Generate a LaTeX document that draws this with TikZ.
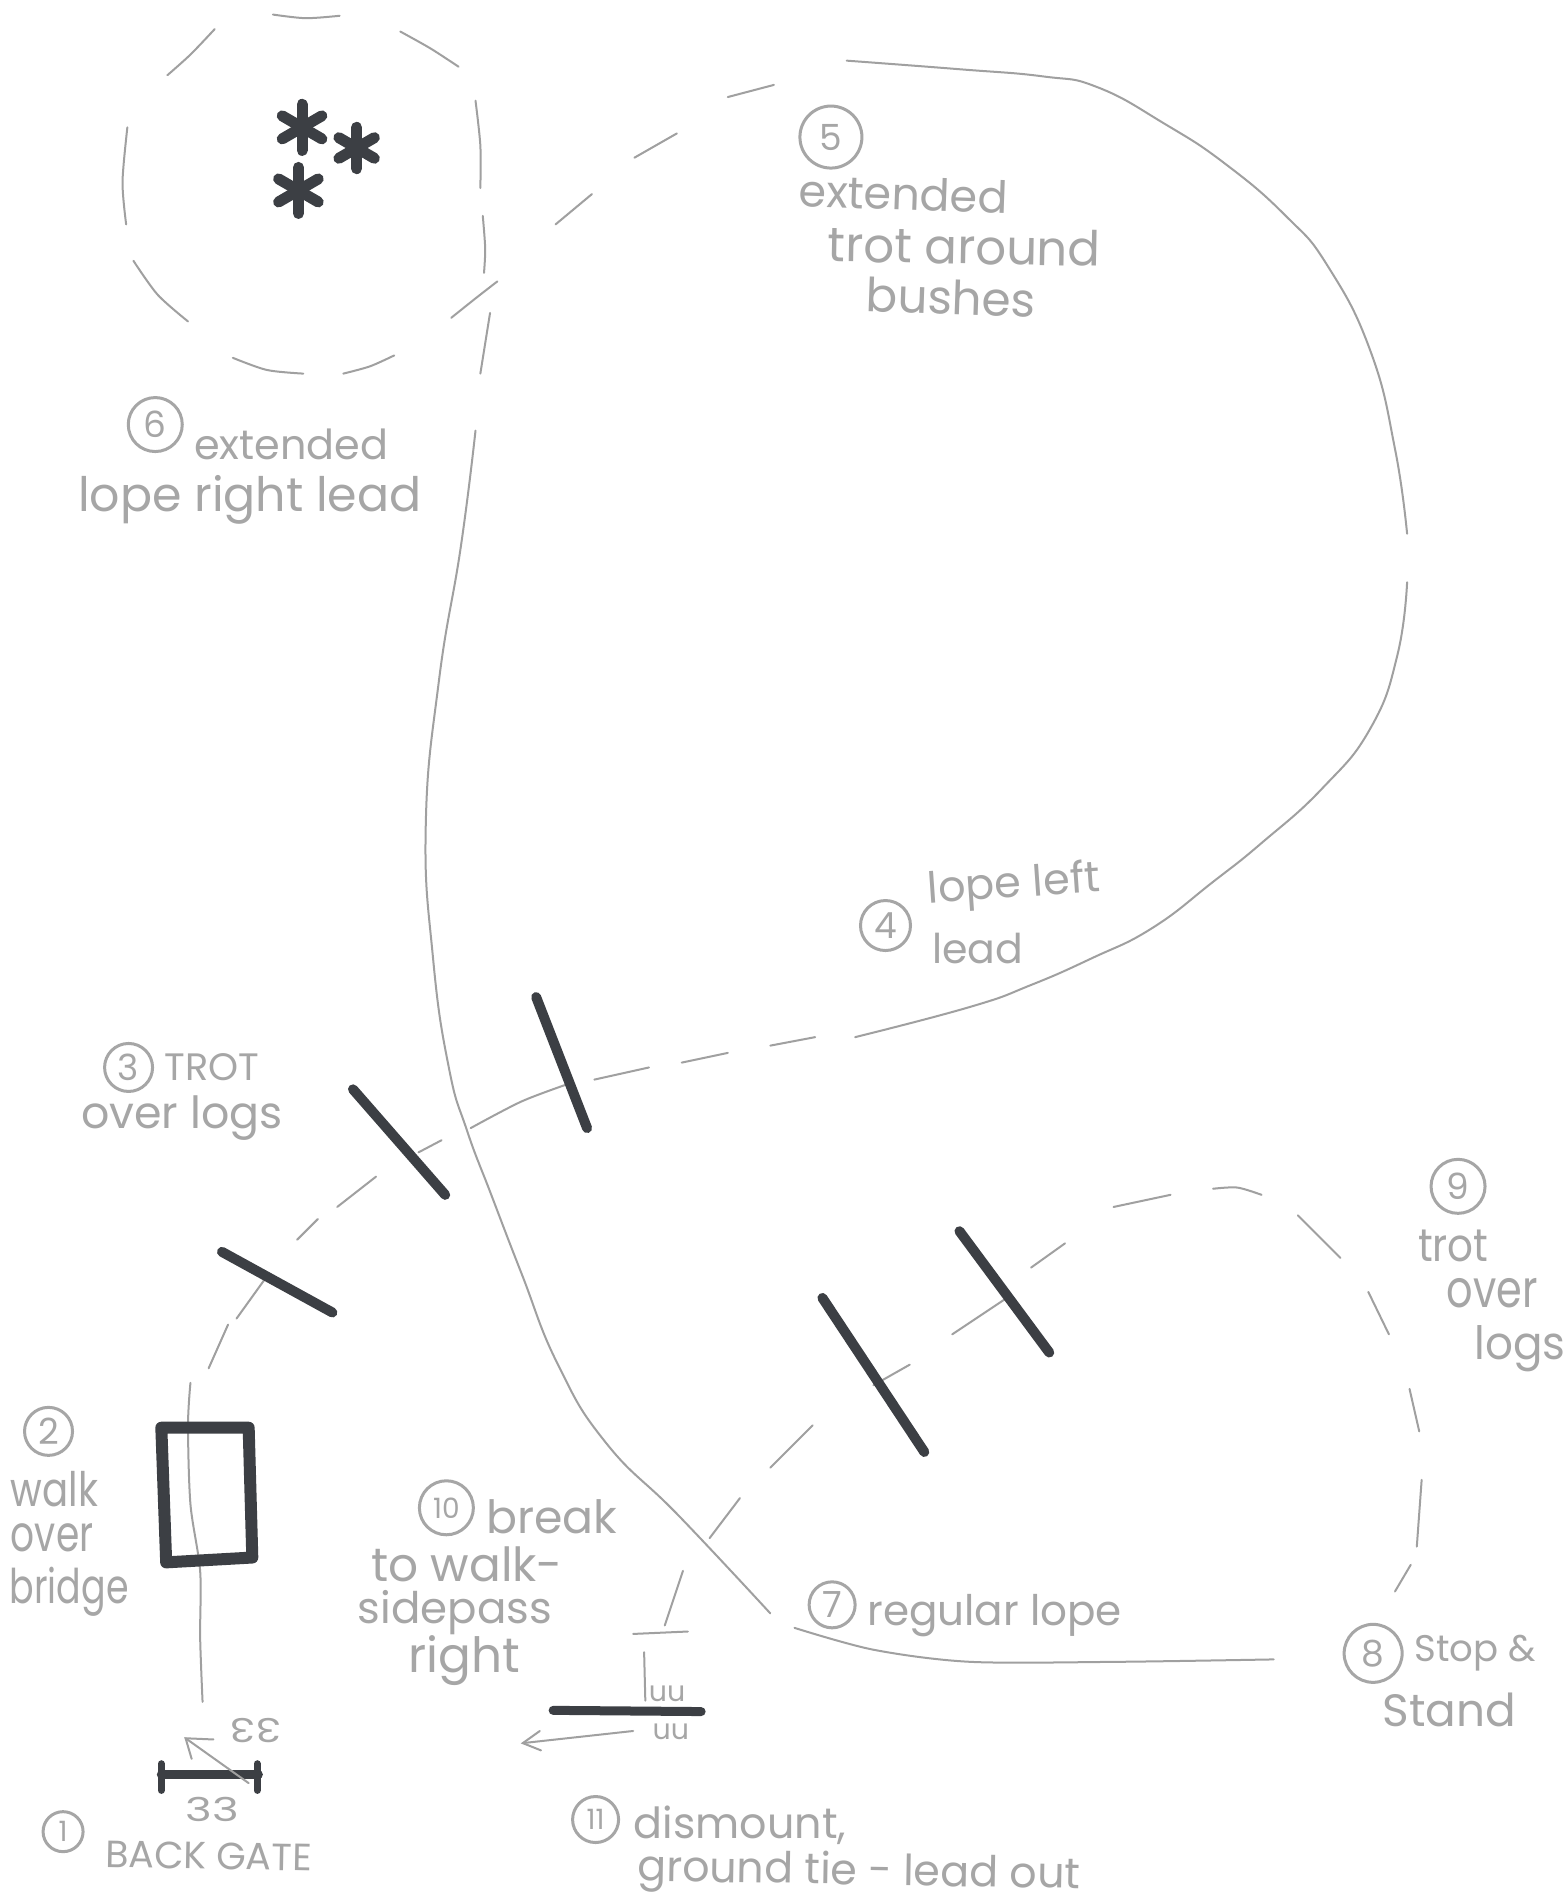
\documentclass[tikz,border=0pt]{standalone}
\usepackage{fontspec}
\usepackage{graphicx}
\setmainfont{Poppins}
\usetikzlibrary{arrows.meta}
\definecolor{ink}{HTML}{3C3F44}
\definecolor{pencil}{HTML}{A0A0A0}
\definecolor{hand}{HTML}{A6A6A6}
\newlength\ux \ux=1.2129pt
\newcommand\hw[2]{\resizebox{#1\ux}{!}{#2}}
\newcommand\hh[3]{\resizebox{#1\ux}{#2\ux}{#3}}
\tikzset{
  trail/.style={draw=pencil,line width=2pt,line cap=round},
  logbar/.style={draw=ink,line width=10pt,line cap=round},
  label/.style={text=hand,inner sep=0pt,font=\fontsize{40}{40}\selectfont},
  num/.style={circle,draw=hand,line width=3pt,text=hand,inner sep=0pt,font=\fontsize{36}{36}\selectfont},
  numsmall/.style={num,font=\fontsize{28}{28}\selectfont},
  spoke/.style={draw=ink,line width=11pt,line cap=round}
}
\begin{document}
\begin{tikzpicture}[x=1.2129pt,y=-1.2129pt]
\useasboundingbox[fill=white] (0,0) rectangle (1292,1568);

% circle of bushes (dashed by hand)
\draw[trail] plot[smooth] coordinates {(225,12) (252,15) (280,13)};
\draw[trail] plot[smooth] coordinates {(330,26) (355,40) (378,55)};
\draw[trail] plot[smooth] coordinates {(392,83) (396,120) (396,155)};
\draw[trail] plot[smooth] coordinates {(398,178) (400,205) (399,225)};
\draw[trail] plot[smooth] coordinates {(372,262) (392,246) (410,232)};
\draw[trail] plot[smooth] coordinates {(283,308) (305,302) (325,293)};
\draw[trail] plot[smooth] coordinates {(192,295) (220,305) (250,308)};
\draw[trail] plot[smooth] coordinates {(110,215) (130,243) (155,265)};
\draw[trail] plot[smooth] coordinates {(104,185) (101,150) (105,105)};
\draw[trail] plot[smooth] coordinates {(138,62) (157,45) (177,24)};

% upper dashes
\draw[trail] (458,185) -- (488,160);
\draw[trail] (523,130) -- (558,110);
\draw[trail] (600,80) -- (638,70);

% big loop
\draw[trail] plot[smooth,tension=0.8] coordinates {(698,50) (790,57) (860,63) (905,72) (960,102) (1010,135) (1060,178) (1095,220) (1130,290) (1150,370) (1160,440)};
\draw[trail] plot[smooth,tension=0.8] coordinates {(1160,480) (1152,540) (1130,600) (1090,650) (1040,695) (1000,727) (950,765) (900,790) (850,812) (800,830) (705,855)};
\draw[trail] (672,855) -- (635,862);
\draw[trail] (600,868) -- (562,876);
\draw[trail] (535,880) -- (490,890);
\draw[trail] plot[smooth] coordinates {(470,893) (430,908) (388,930)};
\draw[trail] (364,940) -- (345,950);
\draw[trail] (310,970) -- (278,995);
\draw[trail] (262,1005) -- (245,1022);
\draw[trail] (218,1055) -- (195,1087);
\draw[trail] (188,1092) -- (172,1128);
\draw[trail] plot[smooth] coordinates {(157,1140) (155,1175) (157,1240) (165,1295) (165,1350) (167,1403)};

% extended lope / regular lope
\draw[trail] (404,258) -- (396,308);
\draw[trail] plot[smooth,tension=0.8] coordinates {(392,355) (380,450) (362,560) (351,680) (357,790) (370,880) (385,932) (405,985) (430,1050) (460,1125) (500,1190) (560,1250) (635,1330)};
\draw[trail] plot[smooth] coordinates {(655,1342) (720,1360) (800,1370) (920,1370) (1050,1368)};

% right hand dashes
\draw[trail] (522,1347) -- (567,1345);
\draw[trail] (548,1340) -- (563,1295);
\draw[trail] (585,1268) -- (610,1235);
\draw[trail] (635,1210) -- (670,1175);
\draw[trail] (720,1142) -- (750,1125);
\draw[trail] (785,1100) -- (830,1070);
\draw[trail] (850,1045) -- (878,1025);
\draw[trail] (918,995) -- (965,985);
\draw[trail] plot[smooth] coordinates {(1000,980) (1020,979) (1040,985)};
\draw[trail] (1070,1002) -- (1105,1037);
\draw[trail] (1128,1065) -- (1145,1100);
\draw[trail] (1162,1145) -- (1170,1180);
\draw[trail] (1172,1220) -- (1168,1275);
\draw[trail] (1163,1290) -- (1150,1312);

% logs
\draw[logbar] (442,822) -- (484,930);
\draw[logbar] (291,898) -- (367,985);
\draw[logbar] (183,1032) -- (274,1082);
\draw[logbar] (678,1070) -- (762,1197);
\draw[logbar] (791,1015) -- (865,1115);

% bridge
\draw[draw=ink,line width=12pt,line join=round] (133,1177) -- (205,1177) -- (208,1284) -- (137,1288) -- cycle;

% back gate
\draw[logbar,line width=9pt] (133,1463) -- (213,1463);
\draw[logbar,line width=7pt] (133,1454) -- (133,1476);
\draw[logbar,line width=7pt] (212,1454) -- (212,1476);
\coordinate (gatefoot) at (205,1470);
\coordinate (gatetip) at (153,1433);
\draw[trail] (gatefoot) -- (gatetip);
\draw[trail] (176,1434) -- (gatetip) -- (158,1450);
\node[text=hand,inner sep=0pt,rotate=180] (hoofa) at (211,1427) {\hh{42}{20}{33}};
\node[text=hand,inner sep=0pt] (hoofb) at (175,1492) {\hh{44}{20}{33}};

% side pass obstacle
\draw[logbar,line width=9pt] (456,1410) -- (578,1411);
\draw[trail] (531,1362) -- (532,1402);
\node[text=hand,inner sep=0pt] (ua) at (550,1396) {\hw{30}{uu}};
\node[text=hand,inner sep=0pt] (ub) at (553,1428) {\hw{30}{uu}};
\coordinate (sidefoot) at (522,1427);
\coordinate (sidetip) at (431,1437);
\draw[trail] (sidefoot) -- (sidetip);
\draw[trail] (445,1427) -- (sidetip) -- (446,1443);

% bushes
\foreach \cx/\cy/\r/\n in {249/105/19/bushA,294/122/17/bushB,246/157/19/bushC}{
  \draw[spoke] (\cx,\cy-\r) -- (\cx,\cy+\r);
  \draw[spoke] (\cx-\r*0.86,\cy-\r*0.5) -- (\cx+\r*0.86,\cy+\r*0.5);
  \draw[spoke] (\cx-\r*0.86,\cy+\r*0.5) -- (\cx+\r*0.86,\cy-\r*0.5);
}

% labels
\node[num,minimum size=62pt] (n5) at (685,113) {5};
\node[label,rotate=-2] (t5a) at (745,160) {\hw{172}{extended}};
\node[label,rotate=-1] (t5b) at (795,203) {\hw{225}{trot around}};
\node[label,rotate=-2] (t5c) at (784,245) {\hw{140}{bushes}};

\node[num,minimum size=54pt] (n6) at (128,350) {6};
\node[label] (t6a) at (240,366) {\hw{160}{extended}};
\node[label] (t6b) at (206,412) {\hw{283}{lope right lead}};

\node[num,minimum size=50pt] (n4) at (730,763) {4};
\node[label,rotate=4] (t4a) at (836,731) {\hw{142}{lope left}};
\node[label] (t4b) at (806,782) {\hw{75}{lead}};

\node[num,minimum size=48pt] (n3) at (106,880) {3};
\node[label] (t3a) at (175,880) {\hw{78}{TROT}};
\node[label] (t3b) at (150,922) {\hw{166}{over logs}};

\node[num,minimum size=48pt] (n2) at (40,1180) {2};
\node[label] (t2a) at (45,1228) {\hh{72}{29}{walk}};
\node[label] (t2b) at (43,1268) {\hh{68}{23}{over}};
\node[label] (t2c) at (57,1312) {\hh{98}{30}{bridge}};

\node[numsmall,minimum size=54pt] (n10) at (368,1243) {10};
\node[label] (t10a) at (455,1250) {\hw{108}{break}};
\node[label] (t10b) at (385,1290) {\hw{158}{to walk-}};
\node[label] (t10c) at (375,1329) {\hw{160}{sidepass}};
\node[label] (t10d) at (383,1369) {\hw{92}{right}};

\node[num,minimum size=46pt] (n7) at (686,1323) {7};
\node[label] (t7) at (820,1332) {\hw{210}{regular lope}};

\node[num,minimum size=58pt] (n8) at (1132,1363) {8};
\node[label] (t8a) at (1216,1363) {\hw{100}{Stop \&}};
\node[label] (t8b) at (1195,1410) {\hw{110}{Stand}};

\node[num,minimum size=54pt] (n9) at (1202,978) {9};
\node[label] (t9a) at (1198,1027) {\hh{58}{26}{trot}};
\node[label] (t9b) at (1230,1066) {\hh{75}{24}{over}};
\node[label] (t9c) at (1253,1112) {\hh{75}{28}{logs}};

\node[numsmall,minimum size=46pt] (n11) at (491,1500) {11};
\node[label] (t11a) at (610,1505) {\hw{175}{dismount,}};
\node[label,rotate=-1] (t11b) at (708,1545) {\hw{365}{ground tie - lead out}};

\node[numsmall,minimum size=40pt] (n1) at (52,1510) {1};
\node[label,rotate=-1] (t1) at (172,1530) {\hw{170}{BACK GATE}};
\end{tikzpicture}
\end{document}
